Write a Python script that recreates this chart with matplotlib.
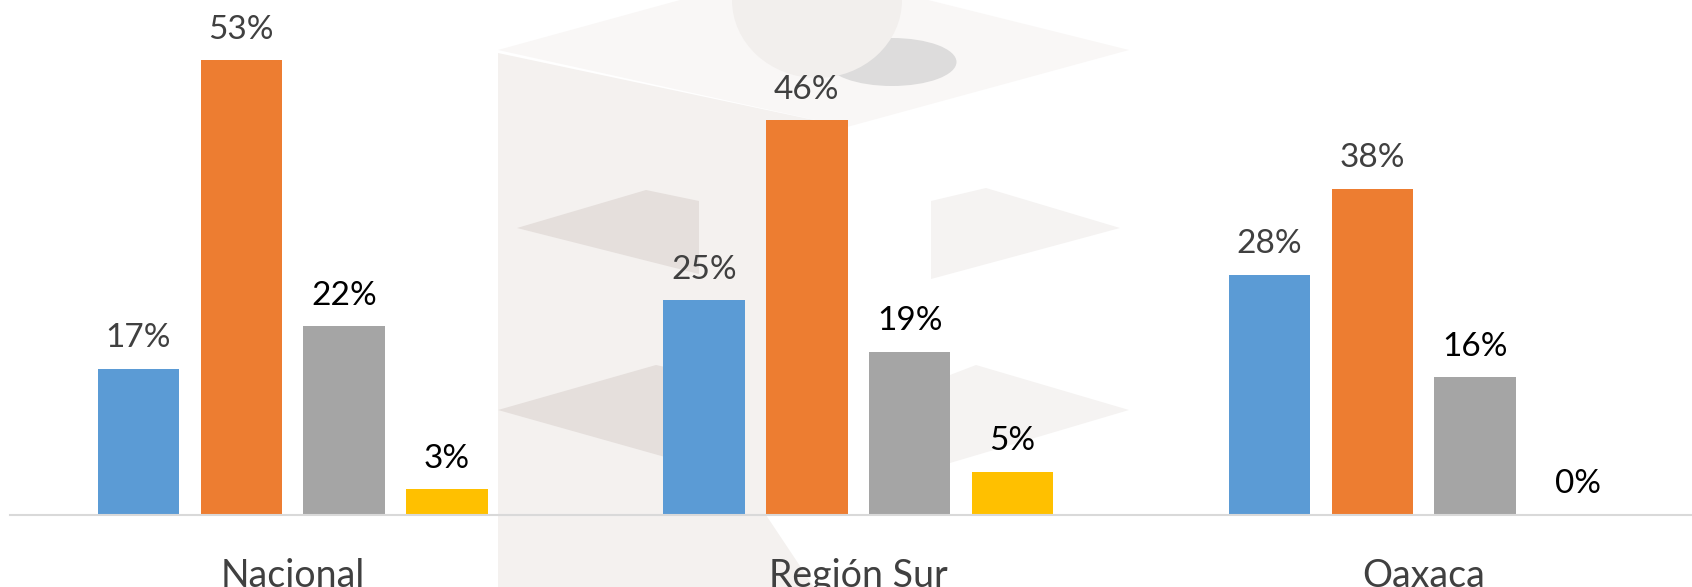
import numpy as np
import matplotlib.pyplot as plt
from matplotlib.patches import Polygon, Ellipse

# ------------------------------
# DATA
# ------------------------------
categories = ["Nacional", "Región Sur", "Oaxaca"]
serie_1 = [17, 25, 28]
serie_2 = [53, 46, 38]
serie_3 = [22, 19, 16]
serie_4 = [3, 5, 0]

series = [serie_1, serie_2, serie_3, serie_4]
colors = ["#5b9bd5", "#ed7d31", "#a5a5a5", "#ffc000"]
label_colors = ["#404040", "#404040", "#000000", "#000000"]

plt.rcParams["font.family"] = ["Lato", "DejaVu Sans"]

W, H = 1692, 587
fig = plt.figure(figsize=(W / 100, H / 100), dpi=100)

# ------------------------------
# faint watermark in the background (pixel coords)
# ------------------------------
bg = fig.add_axes([0, 0, 1, 1], zorder=0)
bg.set_xlim(0, W)
bg.set_ylim(H, 0)
bg.axis("off")

shapes = [
    ([(498, 50), (680, 0), (928, 0), (1129, 50), (847, 127)], "#f9f7f6"),
    ([(498, 53), (847, 127), (847, 215), (766, 200), (766, 515),
      (814, 587), (498, 587)], "#f4f1ef"),
    ([(517, 228), (646, 190), (699, 201), (699, 274)], "#e5dfdc"),
    ([(498, 410), (656, 365), (665, 367), (665, 457)], "#e5dfdc"),
    ([(931, 201), (986, 188), (1120, 228), (931, 279)], "#f5f3f2"),
    ([(950, 375), (976, 365), (1129, 410), (950, 463)], "#f5f3f2"),
]
for pts, c in shapes:
    bg.add_patch(Polygon(pts, closed=True, facecolor=c, edgecolor="none"))
bg.add_patch(Ellipse((892, 62), 129, 48, facecolor="#dddcdc", edgecolor="none"))
bg.add_patch(Ellipse((817, 0), 170, 156, facecolor="#f2efed", edgecolor="none"))

# ------------------------------
# BAR CHART
# ------------------------------
left_px, cat_px, base_px = 10, 565.5, 514.7
ax = fig.add_axes([left_px / W, (H - base_px) / H, 3 * cat_px / W, base_px / H],
                  zorder=1)
ax.patch.set_alpha(0)

x = np.arange(len(categories))
step = 0.182
width = 0.144

for i, vals in enumerate(series):
    pos = x + (i - 1.5) * step
    ax.bar(pos, vals, width=width, color=colors[i], zorder=2)
    for p, v in zip(pos, vals):
        ax.text(p, v + 2.5, f"{v}%", ha="center", va="baseline",
                fontsize=24, color=label_colors[i])

ax.set_xlim(-0.5, 2.5)
ax.set_ylim(0, 60)
ax.set_xticks(x)
ax.set_xticklabels(categories, fontsize=27, color="#404040")
ax.tick_params(axis="x", length=0, pad=31)
ax.set_yticks([])
for s in ["top", "left", "right"]:
    ax.spines[s].set_visible(False)
ax.spines["bottom"].set_color("#d9d9d9")
ax.spines["bottom"].set_linewidth(1.5)

fig.savefig("out.png", dpi=100)
